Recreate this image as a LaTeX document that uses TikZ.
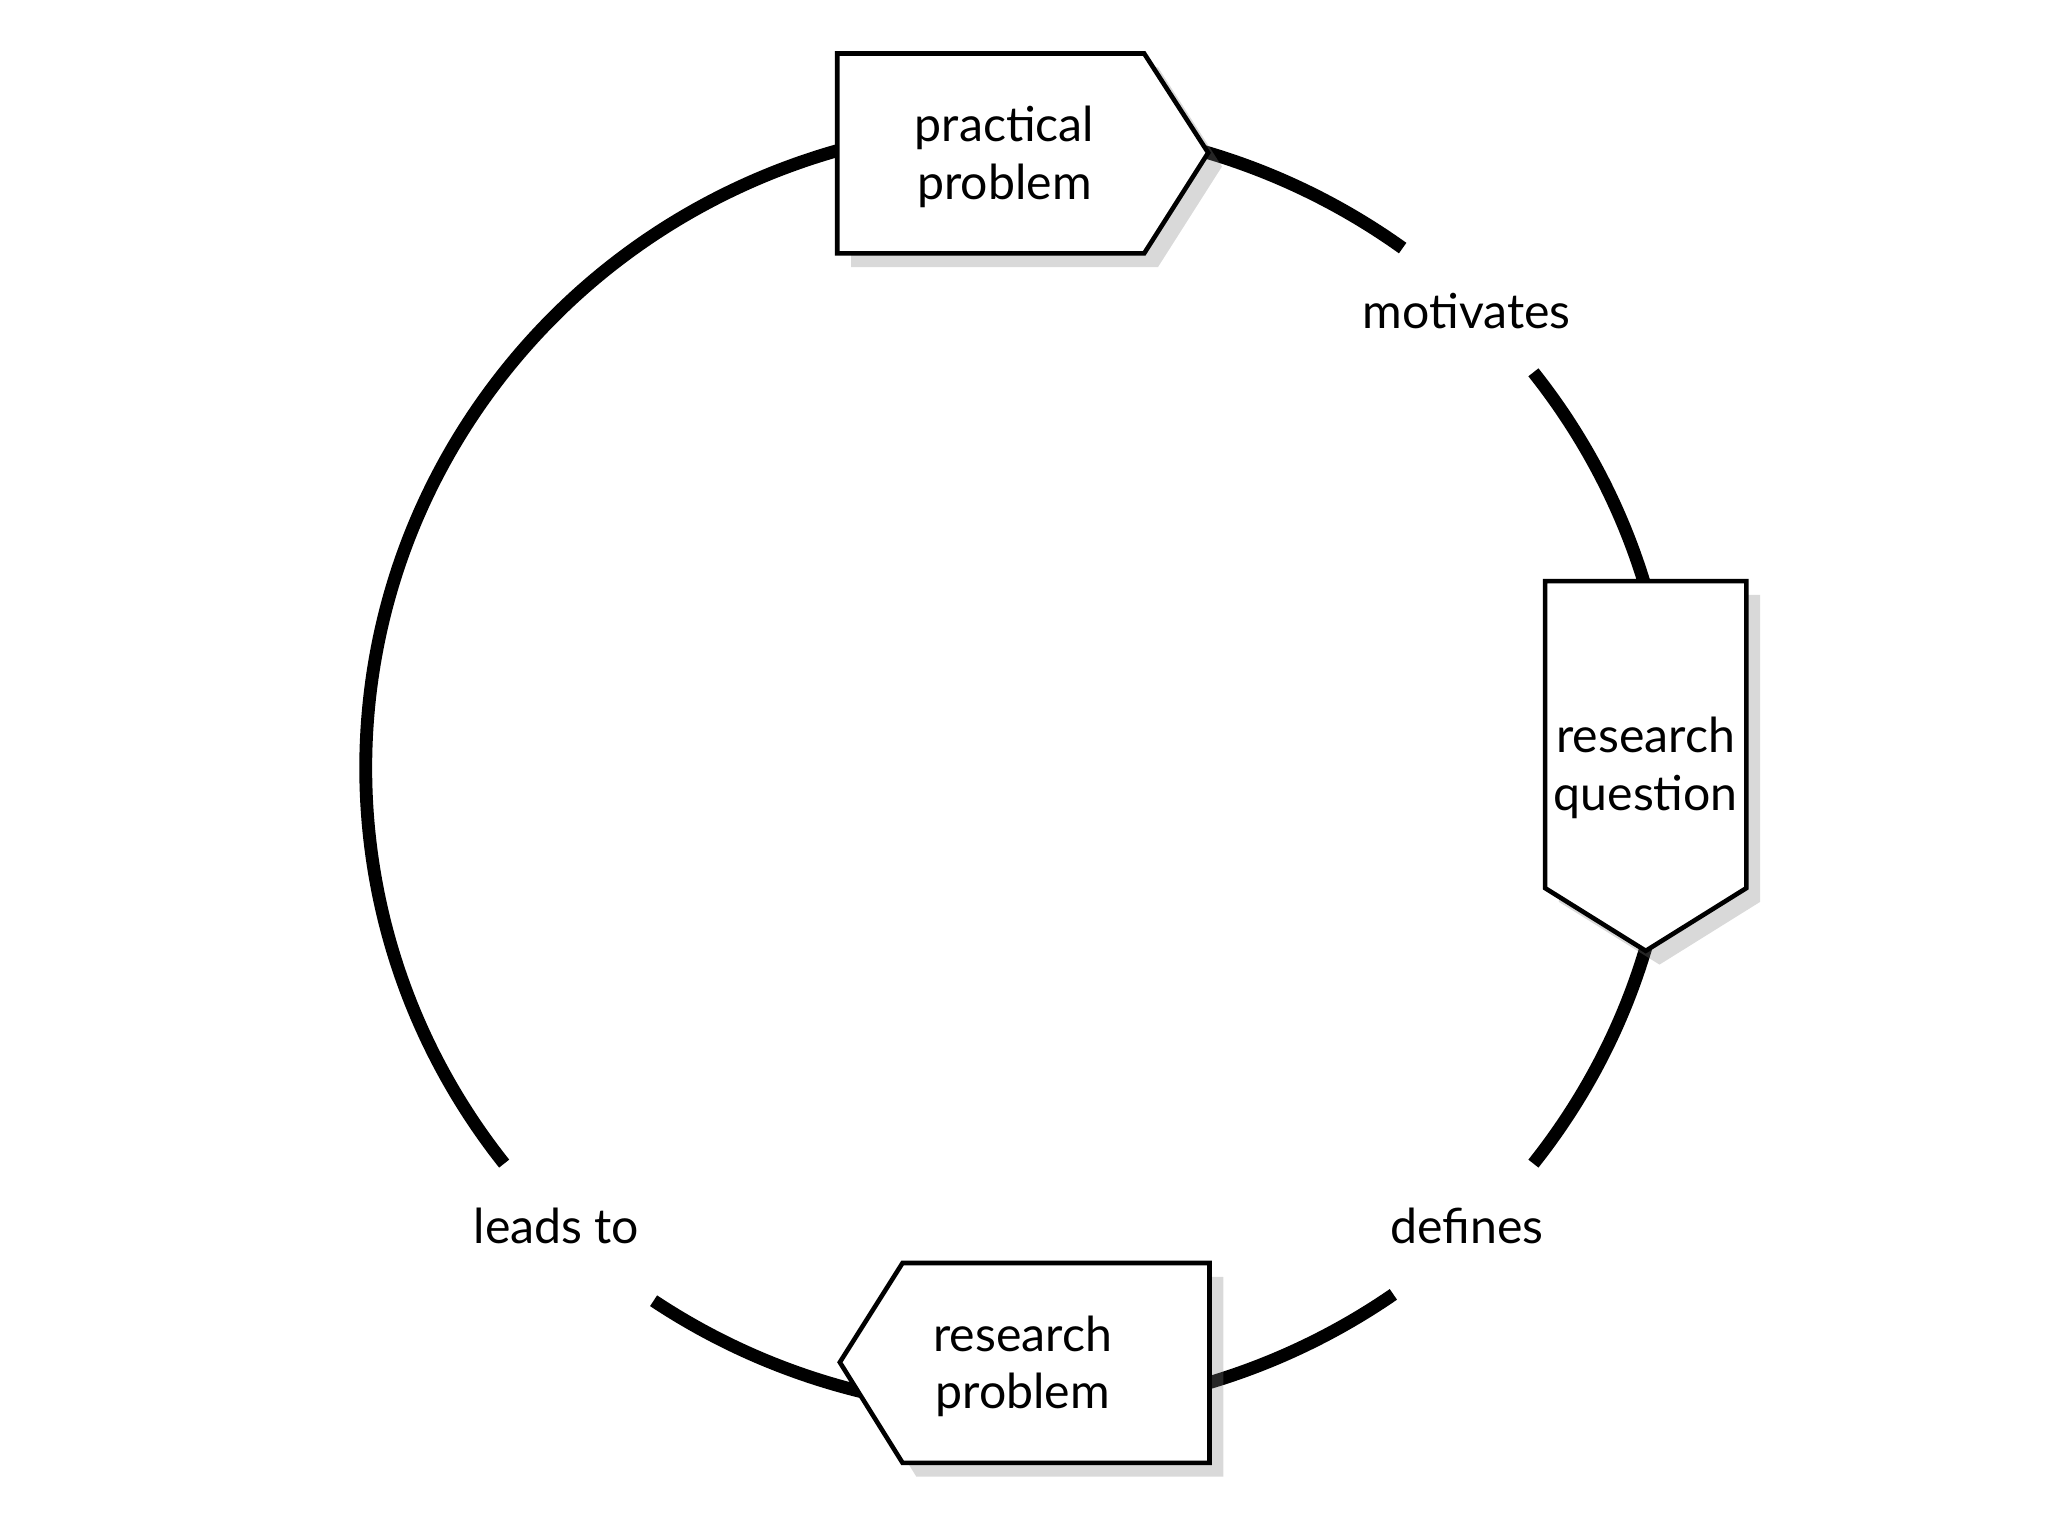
\documentclass[tikz,border=0pt]{standalone}
\usepackage{fontspec}
\setmainfont{Lato}
\usetikzlibrary{shadows,calc}
\begin{document}
\begin{tikzpicture}[
  ring/.style={line width=2.8pt, line cap=butt},
  tag/.style={draw=black, line width=1pt, fill=white, line join=miter,
    drop shadow={opacity=0.3, shadow xshift=3pt, shadow yshift=-3pt}},
  lbl/.style={font=\fontsize{10.5}{12.5}\selectfont, align=center, inner sep=0pt},
]
\useasboundingbox (0,0) rectangle (15.68,11.76);
\coordinate (c) at (7.80,5.88);
% ring segments
\draw[ring] ($(c)+(54:5 and 4.92)$) arc[start angle=54,end angle=218,x radius=5,y radius=4.92];
\draw[ring] ($(c)+(-124:5 and 4.92)$) arc[start angle=-124,end angle=-55,x radius=5,y radius=4.92];
\draw[ring] ($(c)+(-38:5 and 4.92)$) arc[start angle=-38,end angle=38,x radius=5,y radius=4.92];
% practical problem
\filldraw[tag] (6.41,11.35) -- (8.76,11.35) -- (9.25,10.59) -- (8.76,9.82) -- (6.41,9.82) -- cycle;
\node[lbl] (pp) at (7.69,10.56) {practical\\problem};
% research question
\filldraw[tag] (11.83,7.31) -- (13.37,7.31) -- (13.37,4.96) -- (12.60,4.48) -- (11.83,4.96) -- cycle;
\node[lbl] (rq) at (12.60,5.88) {research\\question};
% research problem
\filldraw[tag] (6.91,2.09) -- (9.26,2.09) -- (9.26,0.56) -- (6.91,0.56) -- (6.43,1.33) -- cycle;
\node[lbl] (rp) at (7.83,1.30) {research\\problem};
% labels
\node[lbl] (mot) at (11.23,9.38) {motivates};
\node[lbl] (def) at (11.23,2.37) {defines};
\node[lbl] (lt) at (4.26,2.37) {leads to};
\end{tikzpicture}
\end{document}
